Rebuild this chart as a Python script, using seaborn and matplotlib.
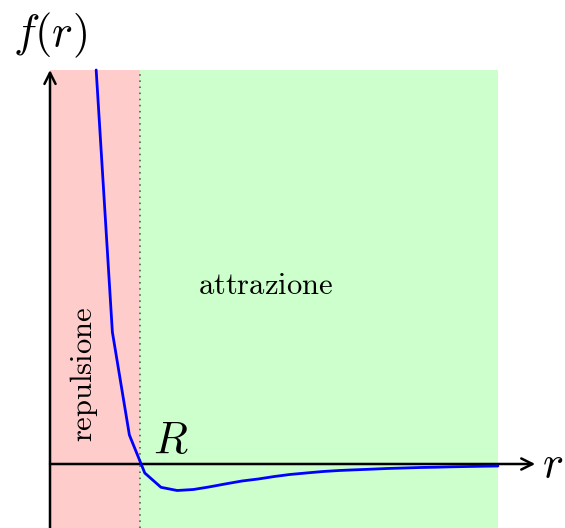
import matplotlib
matplotlib.use("Agg")
import matplotlib.pyplot as plt
import seaborn as sns
import pandas as pd

sns.set_theme(style="white")
plt.rcParams["mathtext.fontset"] = "cm"
plt.rcParams["text.color"] = "black"

# sampled force f(r) (sign: positive = repulsive)
r_vals = [0.57, 0.77, 0.98, 1.17, 1.37, 1.57, 1.77, 1.96, 2.16, 2.37, 2.57,
          2.77, 2.96, 3.16, 3.37, 3.57, 3.77, 3.96, 4.16, 4.37, 4.57, 4.77,
          4.96, 5.16, 5.37, 5.53]
f_vals = [3.94, 1.32, 0.29, -0.09, -0.233, -0.265, -0.255, -0.23, -0.20,
          -0.17, -0.15, -0.125, -0.105, -0.09, -0.075, -0.065, -0.058,
          -0.052, -0.045, -0.04, -0.035, -0.032, -0.028, -0.025, -0.022,
          -0.02]
R = 1.111          # zero crossing of f(r)
r_end = 5.53       # end of the shaded domain
f_top, f_bottom = 3.94, -0.64
r_axis_end = 5.99

region_labels = ["repulsione", "attrazione"]

df = pd.DataFrame({"r": r_vals, "f": f_vals})

fig = plt.figure(figsize=(5.65, 5.28), dpi=100)
ax = fig.add_axes([0, 0, 1, 1])
ax.set_xlim(-50 / 81, 515 / 81)
ax.set_ylim(-0.64, 4.64)
ax.axis("off")

# shaded regions
ax.fill_between([0, R], f_bottom, f_top, color="#ffcccc", lw=0, zorder=0)
ax.fill_between([R, r_end], f_bottom, f_top, color="#ccffcc", lw=0, zorder=0)
ax.plot([R, R], [f_bottom, f_top], color="0.3", ls=(0, (1, 3)), lw=1.1, zorder=1)

# axes with arrows
arrow = dict(arrowstyle="->", lw=1.8, color="black", shrinkA=0, shrinkB=0,
             mutation_scale=20)
ax.annotate("", xy=(0, f_top), xytext=(0, f_bottom), arrowprops=arrow, zorder=2)
ax.annotate("", xy=(r_axis_end, 0), xytext=(0, 0), arrowprops=arrow, zorder=2)

# curve
sns.lineplot(data=df, x="r", y="f", color="blue", lw=2, ax=ax, zorder=3)
ax.set_xlabel("")
ax.set_ylabel("")

# labels
ax.text(0, 4.29, r"$f(r)$", fontsize=32, ha="center", va="center", color="black")
ax.text(6.2, 0.0, r"$r$", fontsize=32, ha="center", va="center", color="black")
ax.text(1.49, 0.11, r"$R$", fontsize=32, ha="center", va="baseline", color="black")
ax.text(2.66, 1.70, r"$\mathrm{%s}$" % region_labels[1], fontsize=22,
        ha="center", va="baseline", color="black")
ax.text(0.42, 0.90, r"$\mathrm{%s}$" % region_labels[0], fontsize=22,
        ha="center", va="center", rotation=90, color="black")

fig.savefig("out.png", dpi=100)
